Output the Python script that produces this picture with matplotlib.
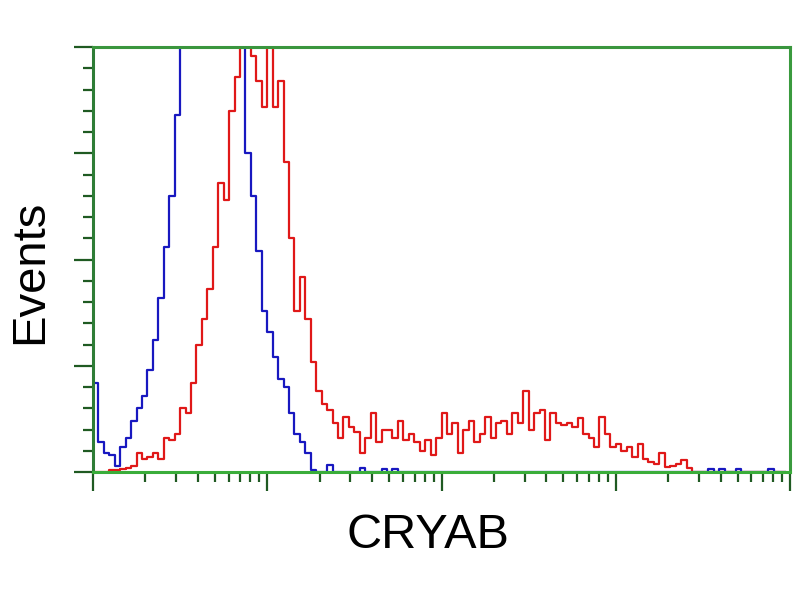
import numpy as np
import matplotlib
matplotlib.use("Agg")
import matplotlib.pyplot as plt
from matplotlib.ticker import LogLocator, MultipleLocator, NullFormatter

# histogram counts, 128 log channels over 4 decades (values in % of axis height)
blue_counts = [
    21, 7, 4.5, 4, 1.5, 6, 8, 12, 15, 18,
    24, 31, 41, 53, 65, 84, 102, 115, 128, 138,
    146, 152, 156, 156, 150, 138, 120, 102, 75, 65,
    52, 38, 33, 27, 22, 20, 14, 9, 7, 4.5,
    0.5, 0, 0, 1.6, 0, 0, 0, 0, 0, 1,
    0, 0, 0, 0.8, 0, 0.8, 0, 0, 0, 0,
    0, 0, 0, 0, 0, 0, 0, 0, 0, 0,
    0, 0, 0, 0, 0, 0, 0, 0, 0, 0,
    0, 0, 0, 0, 0, 0, 0, 0, 0, 0,
    0, 0, 0, 0, 0, 0, 0, 0, 0, 0,
    0, 0, 0, 0, 0, 0, 0, 0, 0, 0,
    0, 0, 0, 0.8, 0, 0.8, 0, 0, 0.8, 0,
    0, 0, 0, 0, 0.8, 0, 0, 0,
]
red_counts = [
    0, 0, 0, 0.5, 0.5, 0.8, 1, 1.5, 4.5, 3,
    3.5, 4.5, 3, 8, 7.5, 9, 15, 14, 21, 30,
    36, 43, 53, 68, 64, 85, 93, 102, 104, 98,
    92, 86, 101, 86, 92, 73, 55, 38, 46, 36,
    26, 19, 16, 14.6, 11.5, 8, 13, 10.6, 9.5, 4.5,
    8, 14, 7, 10, 10, 8, 12, 7.5, 9, 7,
    5, 7.5, 4, 8, 14, 9, 11.5, 4.5, 10, 12,
    7, 9, 13, 8, 11.5, 12, 9, 14, 11.5, 19,
    10, 14, 14.6, 7.5, 14, 11.5, 11, 11.5, 10.6, 12.7,
    9, 8, 6, 13, 9, 6, 6.5, 5, 6, 3.5,
    6.5, 3, 2.4, 2, 4.5, 1.2, 1.5, 1.8, 2.8, 0.9,
    0, 0, 0, 0, 0, 0, 0, 0, 0, 0,
    0, 0, 0, 0, 0, 0, 0, 0,
]
n_channels = 128
decades = 4
xlabel = "CRYAB"
ylabel = "Events"

channels = np.arange(n_channels)
intensity = 10 ** (channels * decades / n_channels)

plt.rcParams['font.family'] = ['Liberation Sans', 'DejaVu Sans']

fig = plt.figure(figsize=(8, 6), dpi=100)
ax = fig.add_axes([93 / 800, 1 - 472 / 600, (790 - 93) / 800, (472 - 47) / 600])

ax.step(intensity, red_counts, where='post', color='#e01818', lw=1.6)
ax.step(intensity, blue_counts, where='post', color='#1818c0', lw=1.6)

ax.set_xscale('log')
ax.set_xlim(1, 10 ** decades)
ax.set_ylim(0, 100)

ax.xaxis.set_major_locator(LogLocator(base=10, numticks=10))
ax.xaxis.set_minor_locator(LogLocator(base=10, subs=np.arange(2, 10), numticks=20))
ax.xaxis.set_major_formatter(NullFormatter())
ax.xaxis.set_minor_formatter(NullFormatter())
ax.yaxis.set_major_locator(MultipleLocator(25))
ax.yaxis.set_minor_locator(MultipleLocator(5))
ax.yaxis.set_major_formatter(NullFormatter())

ax.tick_params(which='major', direction='out', length=14, width=1.6, color='#1f5a22')
ax.tick_params(which='minor', direction='out', length=7, width=1.6, color='#1f5a22')

ax.spines['left'].set_color('#2e7d36')
ax.spines['bottom'].set_color('#3aad3a')
ax.spines['top'].set_color('#3a963e')
ax.spines['right'].set_color('#3a9a3e')
for sp in ax.spines.values():
    sp.set_linewidth(2.2)

fig.text(428 / 800, 1 - 535 / 600, xlabel, fontsize=35, ha='center', va='center')
fig.text(30 / 800, 1 - 272 / 600, ylabel, fontsize=34, rotation=90, ha='center', va='center')

fig.savefig("out.png", dpi=100)
